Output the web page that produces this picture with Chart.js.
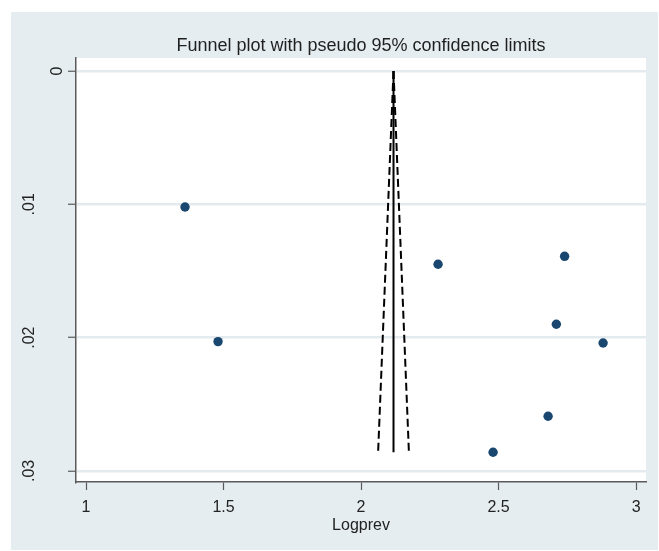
<!DOCTYPE html>
<html>
<head>
<meta charset="utf-8">
<script src="https://cdn.jsdelivr.net/npm/chart.js@4.4.1/dist/chart.umd.min.js"></script>
<style>
  html, body { margin: 0; padding: 0; background: #fff; }
  #funnel { display: block; }
</style>
</head>
<body>
<canvas id="funnel" width="659" height="551"></canvas>
<script>
// Estudios (logprev vs error estándar)
const logprev = [1.36, 1.48, 2.28, 2.74, 2.71, 2.88, 2.68, 2.48];
const stdErr = [0.0102, 0.0203, 0.0145, 0.0139, 0.0190, 0.0204, 0.0259, 0.0286];

// Estimación combinada y límites de pseudo 95%
const funnelSe = [0, 0.0286];
const pooledLine = [2.118, 2.118];
const lowerLimit = [2.118, 2.062];
const upperLimit = [2.118, 2.174];

// Marcas de los ejes
const xTicks = [1, 1.5, 2, 2.5, 3];
const xTickLabels = ['1', '1.5', '2', '2.5', '3'];
const yTicks = [0, 0.01, 0.02, 0.03];
const yTickLabels = ['0', '.01', '.02', '.03'];

const FONT = '"Liberation Sans", Arial, sans-serif';
const bgColor = '#e5edf1';
const gridColor = '#e3ebef';
const axisColor = '#5a5a5a';

const toPoints = (xs, ys) => xs.map((x, i) => ({ x: x, y: ys[i] }));

// Fondo de la región del gráfico y etiquetas verticales del eje Y
const stataLook = {
    id: 'stataLook',
    beforeDraw(chart) {
        const { ctx, chartArea } = chart;
        ctx.save();
        ctx.fillStyle = bgColor;
        ctx.fillRect(11, 12, 647, 538);
        ctx.fillStyle = '#ffffff';
        ctx.fillRect(chartArea.left, chartArea.top, chartArea.width, chartArea.height);
        ctx.restore();
    },
    afterDraw(chart) {
        const { ctx } = chart;
        const yScale = chart.scales.y;
        ctx.save();
        ctx.font = '16px ' + FONT;
        ctx.fillStyle = '#222';
        ctx.textAlign = 'center';
        ctx.textBaseline = 'middle';
        yTicks.forEach((v, i) => {
            const label = yTickLabels[i];
            const py = yScale.getPixelForValue(v);
            const w = ctx.measureText(label).width;
            const cx = yScale.right + 0.2 - 2.08 * w;
            ctx.save();
            ctx.translate(cx, py);
            ctx.rotate(-Math.PI / 2);
            ctx.fillText(label, 0, 0);
            ctx.restore();
        });
        ctx.restore();
    }
};

new Chart(document.getElementById('funnel'), {
    type: 'scatter',
    data: {
        datasets: [
            {
                label: 'Estudios',
                data: toPoints(logprev, stdErr),
                backgroundColor: '#1a476f',
                borderColor: '#1a476f',
                pointRadius: 4.7,
                pointBorderWidth: 0,
                order: 0
            },
            {
                label: 'Estimación combinada',
                data: toPoints(pooledLine, funnelSe),
                showLine: true,
                borderColor: '#000',
                borderWidth: 2,
                pointRadius: 0,
                order: 1
            },
            {
                label: 'Límite inferior',
                data: toPoints(lowerLimit, funnelSe),
                showLine: true,
                borderColor: '#000',
                borderWidth: 2,
                borderDash: [8, 4],
                pointRadius: 0,
                order: 1
            },
            {
                label: 'Límite superior',
                data: toPoints(upperLimit, funnelSe),
                showLine: true,
                borderColor: '#000',
                borderWidth: 2,
                borderDash: [8, 4],
                pointRadius: 0,
                order: 1
            }
        ]
    },
    options: {
        responsive: false,
        animation: false,
        devicePixelRatio: 1,
        layout: { padding: { left: 0, right: 13, top: 0, bottom: 0 } },
        plugins: {
            legend: { display: false },
            tooltip: { enabled: false },
            title: {
                display: true,
                fullSize: false,
                text: 'Funnel plot with pseudo 95% confidence limits',
                color: '#1f1f1f',
                font: { family: FONT, size: 18, weight: 'normal', lineHeight: 1.2 },
                padding: { top: 35, bottom: 1.4 }
            }
        },
        scales: {
            x: {
                type: 'linear',
                min: 0.9636,
                max: 3.036,
                afterBuildTicks: (scale) => { scale.ticks = xTicks.map(v => ({ value: v })); },
                afterFit: (scale) => { scale.height = 69; },
                ticks: {
                    color: '#222',
                    padding: 8,
                    maxRotation: 0,
                    font: { family: FONT, size: 16 },
                    callback: (v) => xTickLabels[xTicks.indexOf(v)]
                },
                grid: {
                    drawOnChartArea: false,
                    drawTicks: true,
                    tickLength: 8,
                    tickColor: axisColor,
                    tickWidth: 1.2
                },
                border: { color: axisColor, width: 1.5 },
                title: {
                    display: true,
                    text: 'Logprev',
                    color: '#222',
                    font: { family: FONT, size: 16 },
                    padding: { top: 0, bottom: 16 }
                }
            },
            y: {
                type: 'linear',
                reverse: true,
                min: -0.000975,
                max: 0.03083,
                afterBuildTicks: (scale) => { scale.ticks = yTicks.map(v => ({ value: v })); },
                afterFit: (scale) => { scale.width = 76; },
                ticks: { display: false },
                grid: {
                    color: gridColor,
                    lineWidth: 2.5,
                    drawTicks: true,
                    tickLength: 8,
                    tickColor: axisColor,
                    tickWidth: 1.2
                },
                border: { color: axisColor, width: 1.5 }
            }
        }
    },
    plugins: [stataLook]
});
</script>
</body>
</html>
